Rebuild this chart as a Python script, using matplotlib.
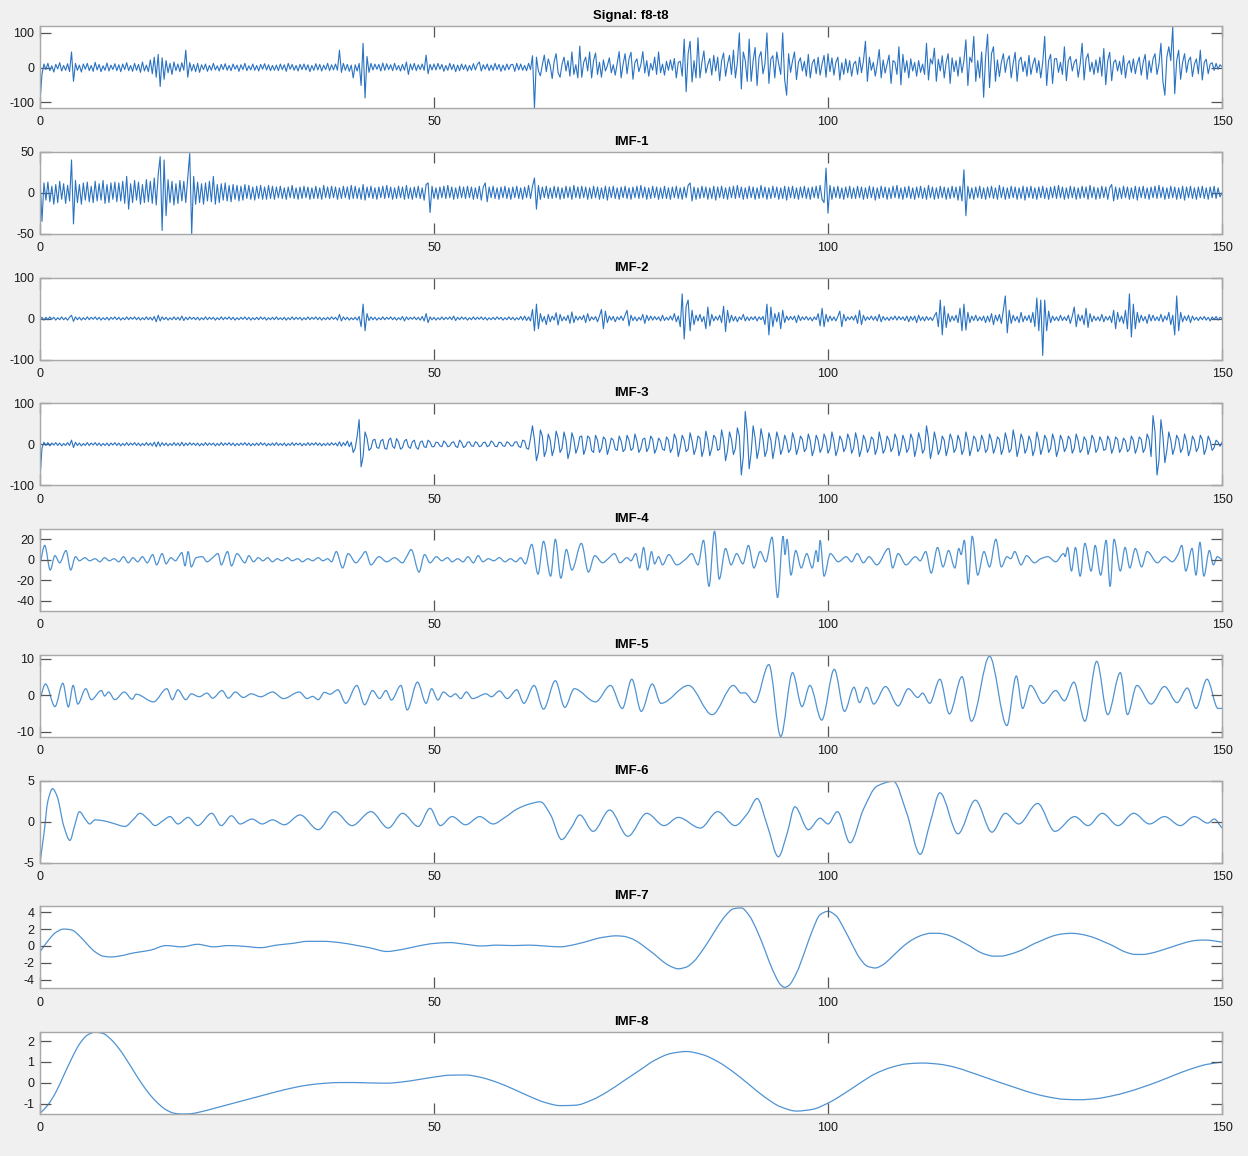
import numpy as np
import matplotlib
matplotlib.use("Agg")
import matplotlib.pyplot as plt
from matplotlib.path import Path
from matplotlib.patches import PathPatch

plt.rcParams['font.family'] = ['Liberation Sans', 'DejaVu Sans']
plt.rcParams['axes.unicode_minus'] = False

# ---------------- data ----------------
titles = ["Signal: f8-t8", "IMF-1", "IMF-2", "IMF-3", "IMF-4",
          "IMF-5", "IMF-6", "IMF-7", "IMF-8"]
x_ticks = [0, 50, 100, 150]
y_ticks = [[-100, 0, 100], [-50, 0, 50], [-100, 0, 100], [-100, 0, 100],
           [-40, -20, 0, 20], [-10, 0, 10], [-5, 0, 5],
           [-4, -2, 0, 2, 4], [-1, 0, 1, 2]]
y_lims = [(-117, 120), (-50, 50), (-100, 100), (-100, 100), (-50, 30),
          (-11.35, 11.1), (-5, 5), (-5.0, 4.7), (-1.48, 2.43)]
t_end = 150  # dense traces: samples every 0.25 s from 0 to 150

signal = [
    -100, -20, 10, -6, 12, -9, 5, -13, 9, -4, 14, -10, 6, -8, 11, -12, 45, -40, 12, -8,
    7, -13, 10, -5, 12, -9, 6, -11, 15, -7, 9, -12, 5, -8, 13, -10, 7, -6, 11, -9,
    8, -12, 10, -6, 14, -9, 6, -11, 12, -8, 9, -14, 16, -10, 7, -12, 22, -18, 30, -28,
    38, -55, 28, -34, 20, -15, 12, -20, 16, -9, 10, -12, 14, -8, 50, -28, 14, -10, 9, -12,
    12, -14, 8, -6, 10, -11, 6, -8, 12, -7, 5, -10, 9, -6, 11, -8, 6, -9, 10, -5,
    7, -11, 8, -6, 12, -9, 5, -7, 10, -8, 6, -10, 9, -5, 11, -7, 8, -9, 6, -8,
    7, -9, 10, -6, 8, -11, 12, -5, 9, -8, 6, -10, 9, -6, 10, -7, 8, -12, 6, -8,
    11, -7, 9, -10, 7, -6, 12, -9, 8, -7, 10, -8, 50, -14, 12, -8, 9, -11, 7, -30,
    8, -10, 12, -52, 70, -88, 32, -14, 12, -7, 10, -5, 9, -10, 13, -8, 11, -6, 8, -9,
    12, -7, 6, -10, 9, -8, 16, -20, 10, -7, 12, -9, 8, -6, 10, -8, 36, -18, 9, -7,
    10, -7, 12, -5, 9, -11, 6, -8, 12, -6, 9, -12, 7, -9, 10, -6, 8, -10, 6, -8,
    11, -7, 9, 16, -10, 8, -5, 10, -9, 7, -8, 12, -6, 9, -11, 7, -8, 10, -6, 8,
    9, -11, 12, -7, 10, -8, 6, -9, 12, -6, 34, -117, 30, -10, -24, 8, 36, -12, 25, 5,
    -32, 18, 40, -15, -28, 10, 30, -10, 20, -25, 45, -20, 8, -30, 62, -28, 15, 30, -10, 45,
    -30, 20, 42, -20, 15, -28, 22, -10, 5, 28, -15, 8, -22, 12, 46, -30, 10, 40, -18, 25,
    44, -34, 15, 25, -12, 8, 46, -16, 20, -25, 12, -8, 30, -20, 45, -15, 10, -22, 18, -8,
    22, -8, 26, -30, 15, 18, -25, 82, -70, 40, 76, -42, 20, -30, 86, -30, 15, 48, -16, 8,
    26, -22, 35, -10, 30, -38, 20, 42, -25, 10, 35, -20, 50, -30, 15, 100, -62, 45, 20, -40,
    82, -40, 20, 58, -52, 30, 46, -18, 10, 100, -46, 25, 34, -30, 45, 10, -20, 100, -35, -80,
    40, -14, 20, 45, -35, 15, 28, -10, 18, -25, 38, -30, 12, 24, -18, 30, -22, 10, 35, -28,
    40, -12, 28, -22, 15, 30, -36, 14, -20, 25, -15, 20, -25, 10, 18, -20, 30, -15, 20, 76,
    -40, 30, -8, 15, -25, 10, 52, -30, 22, -16, 10, 36, -46, 20, 15, -20, 60, -50, 38, -14,
    20, -30, 25, -10, 15, -25, 20, -14, 10, -20, 70, -36, 25, 10, 56, -40, 24, -10, 34, -30,
    15, 40, -46, 28, -12, 20, -25, 30, -15, 20, 80, -52, 30, 15, 90, -40, 20, -30, 45, -86,
    30, 96, -58, 40, 60, -40, 22, -26, 15, 40, -14, 20, 34, -30, 12, 44, -40, 20, 30, -12,
    18, -25, 35, -20, 10, 28, -15, 20, -30, 15, 90, -52, 20, 38, -46, 25, 26, -14, 15, -20,
    60, -38, 20, 32, -10, 15, 24, -28, 10, 70, -36, 25, 40, -12, 15, -20, 22, -15, 30, -25,
    55, -50, 20, 44, -38, 15, 22, -10, 18, -20, 34, -30, 10, 20, -14, 25, -18, 12, 30, -22,
    15, 38, -34, 20, -15, 25, 40, -20, 10, 70, -40, -80, 30, 60, 20, 118, -76, 20, 50, -34,
    15, 40, -14, 20, 30, -26, 10, 25, -18, 50, -36, 15, 24, -18, 10, 14, -8, 12, -5, 8, 2]

imf1 = [
    20, -35, 12, -9, 13, -11, 8, -14, 10, -12, 14, -8, 11, -13, 9, -10, 40, -38, 15, -12,
    10, -14, 12, -9, 13, -11, 8, -12, 14, -10, 11, -9, 15, -13, 10, -12, 12, -8, 13, -11,
    12, -10, 14, -13, 20, -20, 11, -12, 15, -9, 13, -14, 10, -12, 16, -11, 14, -13, 18, -15,
    22, 44, -46, 40, -28, 16, -12, 14, -15, 11, -13, 15, -10, 14, -12, 18, 48, -50, 20, -14,
    13, -12, 11, -14, 12, -10, 14, -11, 20, -14, 10, -12, 11, -9, 12, -10, 9, -11, 10, -8,
    9, -10, 8, -9, 10, -7, 9, -8, 7, -9, 8, -7, 9, -8, 7, -8, 9, -7, 8, -8,
    7, -6, 8, -7, 6, -8, 7, -6, 9, -7, 6, -8, 7, -7, 8, -6, 7, -8, 6, -7,
    8, -7, 6, -8, 9, -6, 7, -7, 8, -6, 7, -8, 6, -7, 8, -6, 7, -8, 9, -7,
    8, -7, 6, -8, 10, -9, 7, -6, 8, -7, 6, -8, 7, -6, 8, -7, 9, -6, 7, -8,
    6, -7, 8, -6, 7, -8, 9, -7, 6, -8, 7, -6, 8, -7, 6, -9, 10, 12, -24, 8,
    -7, 6, -8, 7, -6, 8, -7, 9, -6, 7, -8, 6, -7, 8, -6, 7, -7, 8, -6, 7,
    -8, 6, -7, 8, -9, 7, 12, -11, 7, -6, 8, -7, 6, -8, 7, -6, 8, -7, 6, -8,
    7, -6, 8, -7, 6, -8, 7, -6, 9, -7, 8, 18, -20, 9, -8, 7, -6, 8, -7, 6,
    -7, 8, -6, 7, -8, 6, -7, 8, -6, 7, -8, 9, -6, 7, -7, 8, -6, 7, -8, 6,
    -7, 8, -6, 7, -8, 6, -7, 8, -9, 7, -6, 8, -7, 6, -8, 7, -6, 8, -7, 6,
    -8, 7, -6, 8, -7, 9, -6, 7, -8, 6, -7, 8, -6, 7, -8, 6, -7, 8, -7, 6,
    -8, 7, -6, 8, -7, 6, -8, 7, -6, 9, 12, -10, 7, -8, 6, -7, 8, -6, 7, -8,
    6, -7, 8, -9, 7, -6, 8, -7, 6, -8, 7, -6, 8, -7, 9, -6, 7, -8, 6, -7,
    8, -6, 7, -8, 6, -7, 9, -6, 7, -8, 6, -7, 8, -6, 7, -8, 6, -7, 8, -9,
    7, -6, 8, -7, 6, -8, 7, -6, 8, -7, 6, -8, 7, -6, 8, -7, 9, -8, -12, 30,
    -25, 9, -8, 7, -6, 8, -7, 6, -8, 7, -6, 8, -7, 6, -7, 8, -6, 7, -8, 6,
    -7, 8, -6, 7, -9, 6, -7, 8, -6, 7, -8, 6, -7, 8, -6, 9, -7, 6, -8, 7,
    -6, 8, -7, 6, -8, 7, -6, 8, -7, 6, -8, 9, -6, 7, -8, 6, -7, 8, -6, 7,
    -8, 6, -7, 8, -6, 7, -9, 8, -10, 28, -28, 8, -7, 6, -8, 7, -6, 8, -7, 6,
    -8, 7, -6, 8, -7, 6, -8, 9, -6, 7, -8, 6, -7, 8, -6, 7, -8, 6, -7, 8,
    -9, 7, -6, 8, -7, 6, -8, 7, -6, 8, -7, 6, -8, 7, -6, 8, -7, 9, -6, 7,
    -8, 6, -7, 8, -6, 7, -8, 6, -7, 8, -6, 7, -8, 9, -6, 7, -8, 6, -7, 8,
    -6, 7, -8, 6, 10, -10, 7, -8, 6, -7, 8, -6, 7, -8, 6, -7, 8, -9, 7, -6,
    8, -7, 6, -8, 7, -6, 8, -7, 9, -6, 7, -8, 6, -7, 8, -6, 7, -8, 6, -7,
    8, -9, 7, -6, 8, -7, 6, -8, 7, -6, 8, -7, 6, -8, 7, -6, 8, -7, 6, -5, 0]

imf2 = [
    -2, 3, -4, 3, -3, 4, -2, 3, -4, 2, -3, 4, -3, 2, -4, 3, 8, -7, 4, -3,
    3, -4, 2, -3, 4, -3, 3, -2, 4, -3, 3, -4, 2, -3, 3, -4, 3, -2, 4, -3,
    3, -4, 2, -3, 4, -3, 3, -2, 4, -3, 3, -4, 2, -3, 4, -3, 3, -4, 5, -8,
    8, -6, 4, -3, 3, -4, 2, -3, 4, -3, 3, -4, 6, -5, 3, -3, 4, -2, 3, -3,
    3, -4, 2, -3, 4, -3, 3, -2, 3, -4, 2, -3, 4, -3, 3, -2, 4, -3, 3, -4,
    2, -3, 3, -2, 4, -3, 3, -4, 2, -3, 3, -3, 4, -2, 3, -4, 2, -3, 3, -3,
    4, -3, 2, -3, 3, -4, 2, -3, 4, -3, 3, -2, 3, -4, 2, -3, 4, -3, 3, -2,
    4, -3, 3, -4, 2, -3, 3, -3, 4, -2, 3, -4, 10, -6, 4, -3, 3, -4, 2, -3,
    3, -4, 5, -20, 35, -30, 12, -5, 4, -3, 3, -4, 2, -3, 4, -3, 3, -2, 4, -3,
    3, -4, 2, -3, 5, -6, 4, -3, 3, -2, 4, -3, 3, -4, 5, -6, 12, -10, 4, -3,
    3, -4, 2, -3, 4, -3, 3, -2, 4, -3, 6, -5, 3, -3, 4, -2, 3, -4, 2, -3,
    4, -3, 3, -2, 4, -3, 3, -4, 2, -3, 3, -3, 4, -2, 3, -4, 2, -3, 4, -3,
    3, -4, 2, -3, 5, -4, 6, -5, 4, -6, 22, -30, 35, -25, 12, -8, 5, -15, 10, -8,
    6, -4, 14, -16, 10, -6, 4, -5, 8, -12, 16, -10, 6, -4, 5, -3, 8, -10, 12, -6,
    4, -3, 5, -8, 6, 22, -25, 18, -10, 6, -4, 5, -8, 4, -3, 6, -5, 8, 20, -18,
    8, -5, 4, -6, 3, -4, 10, -12, 8, -5, 6, -4, 5, -3, 4, -6, 8, -5, 3, -4,
    6, -4, 12, -8, 6, -20, 60, -50, 30, 45, -30, 20, -15, 8, -6, 10, -8, 5, -25, 28,
    -18, 10, -6, 5, -4, 8, -10, 30, -32, 20, -10, 8, -6, 5, -8, 4, -3, 10, -6, 4,
    -5, 4, -3, 5, -6, 4, -3, 5, -15, 35, -40, 28, -20, 12, -8, 15, -25, 20, -10, 6,
    -4, 5, -3, 6, -10, 8, -5, 4, -3, 5, -4, 3, -6, 4, -3, 12, -18, 25, -20, 10,
    -8, 6, -5, 4, -6, 5, 18, -20, 10, -6, 4, -3, 5, -4, 8, -12, 20, -15, 8, -5,
    4, -3, 6, -4, 5, -6, 10, -8, 5, -4, 3, -5, 4, -3, 6, -4, 5, -3, 4, -5,
    6, -8, 5, -4, 6, -10, 8, -5, 4, -6, 5, -4, 3, -5, 6, 15, -20, 45, -40, 30,
    -22, 12, -8, 6, -5, 8, -10, 25, -30, 35, -28, 15, -10, 6, -5, 8, -6, 4, -5, 6,
    -10, 6, -8, 12, -15, 8, -6, 10, -12, 20, 55, -35, 20, -12, 8, -6, 5, -10, 15, -8,
    6, -5, 8, -10, 15, -20, 50, -30, 45, -90, 45, -30, 18, -10, 6, -5, 4, -6, 8, -5,
    4, -5, 8, -12, 6, 28, -20, 10, -6, 8, -15, 25, -22, 12, -8, 6, -5, 4, -6, 10,
    -8, 5, -4, 6, -10, 20, -25, 15, -8, 6, -12, 20, -25, 60, -45, 35, -25, 15, -10, 8,
    -6, 5, -12, 10, -6, 8, -5, 4, -6, 10, -8, 6, -4, 15, -15, 8, -40, 55, -30, 15,
    -8, 6, -5, 8, -10, 6, -4, 3, -5, 4, -3, 5, -4, 3, -6, 4, -3, 5, -4, 3, 0]

imf3 = [
    -85, -10, 5, -3, 4, -4, 3, -2, 4, -3, 3, -4, 2, -3, 4, -3, 10, -8, 5, -3,
    3, -4, 2, -3, 4, -3, 3, -2, 4, -3, 3, -4, 2, -3, 3, -4, 3, -2, 4, -3,
    3, -4, 2, -3, 4, -3, 3, -2, 4, -3, 3, -4, 2, -3, 4, -3, 3, -4, 5, -6,
    6, -5, 4, -3, 3, -4, 2, -3, 4, -3, 3, -4, 5, -4, 3, -3, 4, -2, 3, -3,
    3, -4, 2, -3, 4, -3, 3, -2, 3, -4, 2, -3, 4, -3, 3, -2, 4, -3, 3, -4,
    2, -3, 3, -2, 4, -3, 3, -4, 2, -3, 3, -3, 4, -2, 3, -4, 2, -3, 3, -3,
    4, -3, 2, -3, 3, -4, 2, -3, 4, -3, 3, -2, 3, -4, 2, -3, 4, -3, 3, -2,
    4, -3, 3, -4, 2, -3, 3, -3, 4, -2, 3, -4, 6, -5, 4, -3, 8, -6, 5, -20,
    -10, 20, 60, -55, -30, 30, 15, -15, -10, 10, 12, -8, -10, 8, 12, -10, -12, 10, 15, -5,
    -10, 14, 5, -12, -8, 8, 12, -6, -10, 6, 10, -8, -12, 5, 8, -6, -8, 10, 5, -6,
    -6, 5, 4, -4, -6, 8, 3, -6, -4, 4, 6, -5, -8, 10, 4, -8, -5, 5, 6, -4,
    -5, 6, 3, -6, -4, 4, 5, -6, -3, 8, 4, -5, -6, 5, 4, -4, -5, 6, 3, -4,
    -4, 5, 6, -5, -8, 10, 8, -10, -12, 15, 45, 10, -40, -20, 35, 20, -30, -15, 25, 10,
    -28, -10, 32, 15, -20, -10, 30, 10, -35, -15, 28, 12, -22, -8, 18, 20, -25, -10, 20, 15,
    -15, -20, 22, 10, -20, -10, 18, 12, -25, -8, 15, 10, -12, -15, 20, 8, -18, -12, 22, 10,
    -15, -10, 25, 8, -20, -10, 12, 15, -18, -8, 20, 12, -22, -10, 15, 8, -12, -15, 18, 10,
    -20, -10, 25, 12, -30, -8, 22, 10, -18, -12, 28, 8, -25, -10, 20, 15, -30, -12, 32, 10,
    -28, -10, 22, 15, -15, -12, 35, 10, -40, -15, 30, 12, -25, -10, 40, 20, -75, -30, 80, 30,
    -60, -20, 45, 15, -35, -10, 38, 12, -30, -15, 28, 10, -35, -8, 30, 12, -25, -10, 22, 8,
    -20, -12, 28, 10, -25, -8, 20, 12, -18, -10, 25, 8, -28, -12, 22, 10, -20, -8, 25, 12,
    -22, -10, 30, 8, -28, -12, 20, 10, -18, -8, 25, 12, -22, -10, 28, 8, -30, -12, 22, 10,
    -20, -8, 18, 12, -25, -10, 30, 8, -22, -12, 20, 10, -18, -8, 25, 12, -28, -10, 22, 8,
    -20, -10, 25, 12, -30, -8, 28, 10, -22, -12, 45, 15, -35, -10, 30, 8, -25, -12, 20, 10,
    -28, -8, 25, 12, -20, -10, 22, 8, -25, -12, 30, 10, -28, -8, 20, 12, -18, -10, 22, 8,
    -20, -12, 25, 10, -22, -8, 18, 12, -25, -10, 28, 8, -20, -12, 35, 10, -30, -8, 25, 12,
    -22, -10, 20, 8, -28, -12, 30, 10, -25, -8, 22, 12, -20, -10, 25, 8, -30, -12, 22, 10,
    -18, -8, 20, 12, -22, -10, 25, 8, -20, -12, 18, 10, -25, -8, 22, 12, -20, -10, 18, 8,
    -15, -12, 20, 10, -22, -8, 18, 12, -20, -10, 15, 8, -18, -12, 20, 10, -22, -8, 18, 12,
    -20, -10, 25, 12, -30, 70, 30, -75, -40, 60, 20, -45, -15, 30, 10, -25, -8, 22, 12, -20,
    -10, 25, 8, -28, -12, 20, 10, -18, -8, 22, 12, -25, -10, 20, 8, -15, -8, 10, 5, -5, 5]

imf4_t = [0, 0.6, 1.3, 1.9, 2.5, 3.3, 3.9, 4.5, 5.0, 5.7, 6.3, 7.0, 7.6, 8.2, 8.8, 9.4,
          10.0, 10.6, 11.2, 11.8, 12.4, 13.0, 13.6, 14.3, 14.8, 15.5, 16.0, 16.6, 17.2,
          17.6, 18.0, 18.4, 18.8, 19.2, 19.8, 20.6, 21.2, 21.9, 22.6, 23.0, 23.8, 24.3,
          25.0, 26.0, 26.5, 27.1, 27.7, 28.3, 28.9, 29.5, 30.1, 30.7, 31.4, 32.0, 32.7,
          33.3, 34.0, 34.6, 35.3, 35.9, 36.5, 37.0, 37.6, 38.4, 39.1, 40.1, 40.7, 41.3,
          42.0, 43.0, 44.0, 45.0, 46.0, 46.6, 47.1, 48.1, 48.8, 49.5, 50.3, 51.0, 51.7,
          52.3, 53.0, 53.7, 54.3, 55.0, 55.6, 56.2, 56.9, 57.6, 58.3, 59.0, 59.7, 60.4,
          61.0, 61.6, 62.4, 63.2, 63.9, 64.8, 65.4, 66.1, 66.8, 67.5, 68.7, 69.6, 70.4,
          71.4, 72.1, 72.9, 73.6, 74.5, 75.0, 75.6, 76.1, 76.6, 77.1, 77.6, 78.0, 78.5,
          79.0, 79.8, 80.8, 82.0, 82.7, 83.5, 84.2, 84.9, 85.6, 86.2, 87.0, 87.7, 88.4,
          89.2, 89.9, 90.6, 91.4, 92.1, 92.9, 93.6, 94.3, 94.55, 94.8, 95.3, 95.9, 96.6,
          97.3, 98.0, 98.5, 98.75, 99.0, 99.5, 100.3, 101.3, 102.3, 103.0, 103.7, 104.5,
          105.2, 106.2, 107.7, 108.2, 108.9, 109.9, 111.1, 111.7, 112.4, 113.1, 113.9,
          114.6, 115.3, 116.1, 116.6, 116.9, 117.3, 117.8, 118.3, 119.0, 119.8, 120.5,
          121.3, 122.0, 122.7, 123.2, 123.7, 124.5, 125.2, 126.2, 127.0, 127.9, 128.9,
          129.9, 130.1, 130.4, 130.9, 131.4, 132.0, 132.6, 133.4, 133.9, 134.6, 135.3,
          135.8, 136.3, 137.1, 137.7, 138.3, 139.0, 139.8, 140.5, 141.8, 142.7, 143.7,
          144.4, 144.9, 145.4, 146.2, 146.7, 147.2, 147.7, 148.4, 148.9, 149.4, 150.0]
imf4_v = [-5, 14, -10, 4, -3, 9, -10, 3, -1, 2, -1, 1, -2, 2, -1, 1,
          -2, 3, -3, 2, -2, 3, -3, 5, -5, 6, -4, 2, -1,
          3, 7, -6, 8, -7, 2, 3, -2, 2, 6, -5, 8, -6,
          6, -3, 4, -2, 2, -1, 2, -2, 1, -1, 2, -1, 1,
          -2, 1, -1, 2, -1, 1, -2, 8, -8, 6, -3, 2, 8,
          -5, 3, -2, 2, -3, 4, 10, -12, 5, -3, 3, -1, 2,
          -2, 1, -2, 3, -3, 4, -2, 1, -1, 2, -2, 1, -2,
          2, -4, 15, -14, 18, -16, 20, -18, 10, -10, 16, -12, 4,
          -3, 1, 6, -3, 2, -1, 6, -8, 12, -10, 8, -4, 3,
          -5, 5, -5, 1, 6, -5, 19, -26, 28, -19, 11, -5, 6,
          -4, 14, -8, 8, -2, 22, -37, 23, 5, 20, -15, 9, -8,
          6, -8, 9, -2, 19, -16, 6, -2, 3, -2, 6, -3,
          3, -5, 11, -8, 6, -5, 3, -1, 8, -13, 12,
          -7, 9, -8, 11, 5, 19, -24, 23, -15, 8, -7,
          20, -7, 3, 1, 8, -5, 4, -3, 1, 3, -2,
          6, 3, 12, -11, 12, -16, 16, -11, 14, -15, 19,
          -26, 20, -11, 12, -8, 11, -7, 8, -3, 3, -2,
          5, 14, -11, 11, -15, 17, -16, 9, -5, 3, 0]

imf5_t = [0, 0.7, 1.9, 2.9, 3.6, 4.2, 4.8, 5.8, 6.5, 7.8, 8.2, 8.7, 9.5, 10.7, 11.7,
          12.2, 14.4, 16.1, 16.8, 17.5, 18.5, 19.2, 20.2, 21.2, 21.9, 23.1, 23.9, 24.8,
          25.8, 26.8, 28.0, 29.5, 30.9, 32.9, 33.9, 34.6, 35.3, 36.1, 36.8, 37.8, 38.8,
          40.2, 41.2, 42.2, 43.1, 43.9, 44.6, 45.8, 46.6, 47.9, 49.0, 49.7, 50.5, 51.2,
          52.1, 52.7, 53.4, 54.1, 54.9, 56.6, 57.3, 58.3, 59.3, 60.5, 61.4, 62.7, 63.9,
          65.4, 66.6, 67.8, 70.5, 72.4, 73.9, 75.1, 76.3, 77.7, 78.8, 82.3, 85.3, 88.0,
          89.0, 89.4, 90.7, 92.5, 94.0, 95.5, 96.7, 97.7, 99.2, 100.8, 102.1, 103.3,
          104.0, 104.9, 105.8, 107.3, 108.9, 110.2, 111.4, 112.0, 112.9, 114.2, 115.4,
          117.0, 118.2, 120.5, 122.7, 123.9, 124.7, 125.7, 127.3, 128.9, 130.0, 131.2,
          132.6, 134.1, 135.5, 137.1, 138.0, 139.2, 141.0, 142.7, 144.3, 145.6, 146.7,
          148.1, 149.5, 150.0]
imf5_v = [-1.0, 3.1, -3.1, 3.3, -3.2, 2.7, -2.4, 1.8, -1.2, 1.3, -0.2, 0.9, -1.2, 0.9, -1.1,
          0.3, -1.8, 1.8, -1.2, 1.5, -1.2, 0.4, -0.4, 0.6, -0.8, 1.3, -0.8, 0.9,
          -0.6, 0.4, -0.4, 0.9, -0.9, 0.9, -0.9, -0.3, -1.2, 0.8, 0.3, 1.5, -2.2,
          2.7, -2.6, 1.3, -0.9, 1.3, -1.3, 2.7, -4.0, 3.6, -2.2, 1.8, -1.3, 0.9,
          -0.4, 0.4, -0.9, 0.9, -0.9, 0.4, -0.4, 1.2, -0.9, 1.5, -2.2, 2.7, -3.8,
          4.0, -3.3, 1.8, -1.8, 2.7, -3.6, 4.4, -4.4, 3.1, -2.2, 2.7, -5.3, 2.7,
          0.6, 0.7, -2.0, 8.4, -11.3, 6.2, -3.1, 2.7, -6.8, 7.1, -4.4, 2.2,
          -2.0, 2.2, -2.4, 2.4, -2.9, 1.8, -0.6, 0.6, -2.2, 4.4, -5.1,
          5.1, -7.1, 10.7, -8.3, 5.3, -3.6, 2.7, -2.2, 1.3, -1.5, 3.6,
          -7.1, 9.3, -5.3, 6.2, -5.3, 2.7, -2.4, 2.4, -2.0, 2.0, -3.6,
          4.4, -3.6, -3.6]

imf6_t = [0, 0.5, 1.0, 1.6, 2.2, 3.0, 3.8, 4.4, 5.0, 5.8, 6.3, 7.0, 8.0, 9.2, 10.8, 11.8,
          12.7, 13.7, 14.6, 15.6, 16.5, 17.5, 18.8, 20.0, 21.8, 23.0, 24.3, 25.4, 26.9,
          28.2, 29.5, 31.0, 33.0, 35.3, 37.4, 39.6, 42.0, 44.2, 46.0, 48.0, 49.5, 50.8,
          52.3, 54.0, 55.8, 57.5, 59.0, 60.5, 62.0, 63.5, 64.8, 66.2, 67.4, 68.5, 70.2,
          72.3, 74.6, 77.0, 79.2, 81.0, 83.8, 86.0, 88.2, 89.8, 91.0, 92.3, 93.7, 94.8,
          95.8, 97.5, 99.0, 100.0, 101.2, 102.8, 104.5, 106.2, 108.3, 110.0, 111.7,
          113.0, 114.2, 116.5, 118.7, 120.8, 122.5, 124.2, 126.6, 128.8, 131.3, 133.0,
          134.8, 136.8, 138.8, 140.8, 142.7, 144.7, 146.5, 148.2, 149.0, 150.0]
imf6_v = [-5.0, -1.5, 2.5, 4.0, 3.0, -0.5, -2.3, -0.5, 1.2, 0.2, -0.3, 0.2, 0.1, -0.2, -0.6, 0.2,
          1.0, 0.3, -0.5, 0.1, 0.6, -0.3, 0.5, -0.5, 1.0, -0.5, 0.7, -0.3, 0.3,
          -0.3, 0.2, -0.4, 0.8, -1.0, 1.2, -0.5, 1.2, -0.8, 1.0, -0.6, 1.6, -0.5,
          0.6, -0.4, 0.6, -0.3, 0.5, 1.5, 2.1, 2.4, 0.8, -2.2, -0.8, 0.8, -1.2,
          1.4, -1.8, 1.0, -0.5, 0.5, -0.8, 1.2, -0.5, 1.0, 2.8, -0.5, -4.3, -1.5,
          1.8, -1.0, 0.4, -0.3, 1.2, -2.6, 1.5, 4.3, 4.9, 1.0, -4.0,
          0.0, 3.5, -1.5, 2.6, -1.3, 1.0, -0.3, 2.2, -1.2, 0.6, -0.5,
          1.0, -0.5, 1.0, -0.3, 0.6, -0.5, 0.6, -0.2, 0.3, -0.8]

imf7_t = [0, 1, 2, 3, 4, 5, 6, 7, 8, 9, 10, 12, 14, 16, 18, 20, 22, 24, 26, 28, 30,
          32, 34, 36, 38, 40, 42, 44, 46, 48, 50, 52, 54, 56, 58, 60, 62, 64, 66, 68,
          70, 71, 72, 73, 74, 75, 76, 77, 78, 79, 80, 81, 82, 83, 84, 85, 86, 87, 88,
          89, 90, 91, 92, 93, 94, 94.5, 95, 96, 97, 98, 99, 100, 101, 102, 103, 104,
          105, 106, 107, 108, 109, 110, 111, 112, 113, 114, 115, 116, 117, 118, 119,
          120, 121, 122, 123, 124, 125, 126, 127, 128, 129, 130, 131, 132, 133, 134,
          135, 136, 137, 138, 139, 140, 141, 142, 143, 144, 145, 146, 147, 148, 149, 150]
imf7_v = [-0.7, 0.6, 1.6, 2.0, 1.9, 1.2, 0.2, -0.7, -1.2, -1.3, -1.2, -0.8, -0.5, 0.05,
          -0.1, 0.2, -0.1, 0.05, -0.05, -0.2, 0.1, 0.3, 0.55, 0.55, 0.4, 0.1, -0.25,
          -0.65, -0.4, 0.0, 0.3, 0.4, 0.2, 0.0, 0.1, 0.05, 0.1, 0.0, -0.1, 0.2,
          0.7, 0.95, 1.1, 1.2, 1.15, 0.9, 0.4, -0.3, -1.0, -1.8, -2.4, -2.7, -2.5, -1.8,
          -0.6, 0.8, 2.3, 3.6, 4.4, 4.5, 3.6, 1.8, -0.5, -2.9, -4.6, -4.9, -4.7, -3.2,
          -0.8, 1.8, 3.7, 4.1, 3.6, 2.1, 0.3, -1.4, -2.4, -2.6, -2.2, -1.4, -0.5, 0.3,
          0.9, 1.3, 1.5, 1.5, 1.35, 1.0, 0.5, 0.0, -0.6, -1.0, -1.2, -1.2, -1.0, -0.7,
          -0.3, 0.2, 0.6, 1.0, 1.3, 1.45, 1.5, 1.4, 1.2, 0.9, 0.5, 0.1, -0.4, -0.8,
          -1.0, -1.0, -0.85, -0.6, -0.3, 0.0, 0.3, 0.55, 0.68, 0.7, 0.6, 0.45]

imf8_t = [0, 1, 2, 3, 4, 5, 6, 7, 8, 9, 10, 11, 12, 13, 14, 15, 16, 17, 18, 19, 20,
          22, 24, 26, 28, 30, 32, 34, 36, 38, 40, 42, 44, 46, 48, 50, 52, 54, 56, 58,
          60, 62, 64, 66, 68, 70, 72, 74, 76, 78, 80, 82, 84, 86, 88, 90, 92, 94, 96,
          98, 100, 102, 104, 106, 108, 110, 112, 114, 116, 118, 120, 122, 124, 126,
          128, 130, 132, 134, 136, 138, 140, 142, 144, 146, 148, 150]
imf8_v = [-1.45, -1.05, -0.45, 0.35, 1.15, 1.85, 2.28, 2.42, 2.36, 2.08, 1.65, 1.1, 0.5,
          -0.08, -0.58, -0.98, -1.28, -1.44, -1.48, -1.47, -1.41, -1.22, -1.02, -0.82,
          -0.62, -0.42, -0.24, -0.1, -0.02, 0.02, 0.02, 0.0, -0.01, 0.05, 0.16, 0.28,
          0.37, 0.38, 0.26, 0.03, -0.28, -0.62, -0.92, -1.08, -1.06, -0.82, -0.42,
          0.08, 0.58, 1.08, 1.4, 1.5, 1.36, 1.02, 0.52, -0.08, -0.68, -1.14, -1.34,
          -1.26, -0.96, -0.52, -0.02, 0.44, 0.74, 0.91, 0.95, 0.9, 0.76, 0.52, 0.26,
          0.0, -0.25, -0.49, -0.67, -0.78, -0.8, -0.75, -0.62, -0.43, -0.19, 0.08,
          0.38, 0.66, 0.88, 1.0]


# ---------------- drawing helpers ----------------
def smooth_line(ax, tx, vy, **kw):
    """Draw a line through the read points as a Matplotlib Bezier path
    (horizontal tangent at peaks/troughs, so the wave keeps its rounded look)."""
    tx = np.asarray(tx, float)
    vy = np.asarray(vy, float)
    h = np.diff(tx)
    d = np.diff(vy) / h
    m = np.zeros_like(vy)
    m[0], m[-1] = d[0], d[-1]
    for i in range(1, len(vy) - 1):
        if d[i - 1] * d[i] > 0:
            m[i] = 2 * d[i - 1] * d[i] / (d[i - 1] + d[i])
    verts = [(tx[0], vy[0])]
    codes = [Path.MOVETO]
    for i in range(len(h)):
        verts += [(tx[i] + h[i] / 3, vy[i] + m[i] * h[i] / 3),
                  (tx[i + 1] - h[i] / 3, vy[i + 1] - m[i + 1] * h[i] / 3),
                  (tx[i + 1], vy[i + 1])]
        codes += [Path.CURVE4] * 3
    ax.add_patch(PathPatch(Path(verts, codes), fill=False, **kw))


W, H = 1248, 1156
fig = plt.figure(figsize=(W / 100, H / 100), dpi=100)
fig.patch.set_facecolor('#f0f0f0')

dense = [signal, imf1, imf2, imf3]
smooth = [(imf4_t, imf4_v), (imf5_t, imf5_v), (imf6_t, imf6_v),
          (imf7_t, imf7_v), (imf8_t, imf8_v)]

left_px, right_px = 40, 1222
top0, ax_h, step = 26, 82, 125.75
dense_color = '#2a72c2'
smooth_color = '#4f93d2'

for k, title in enumerate(titles):
    top = top0 + step * k
    ax = fig.add_axes([left_px / W, 1 - (top + ax_h) / H,
                       (right_px - left_px) / W, ax_h / H])
    ax.set_facecolor('white')
    if k < 4:
        vals = dense[k]
        tx = np.linspace(0, t_end, len(vals))
        ax.plot(tx, vals, color=dense_color, lw=0.8, solid_joinstyle='round')
    else:
        tx, vy = smooth[k - 4]
        smooth_line(ax, tx, vy, edgecolor=smooth_color, lw=0.9)
    ax.set_xlim(0, 150)
    ax.set_ylim(*y_lims[k])
    ax.set_xticks(x_ticks)
    ax.set_yticks(y_ticks[k])
    ax.tick_params(axis='both', direction='in', top=True, right=True,
                   length=8, width=0.9, color='#555555', labelsize=9,
                   labelcolor='#1a1a1a')
    ax.tick_params(axis='x', pad=6)
    ax.tick_params(axis='y', pad=4)
    for s in ax.spines.values():
        s.set_color('#a8a8a8')
        s.set_linewidth(1.0)
    ax.set_title(title, fontsize=9.5, fontweight='bold', pad=5)

fig.savefig('out.png', dpi=100, facecolor=fig.get_facecolor())
